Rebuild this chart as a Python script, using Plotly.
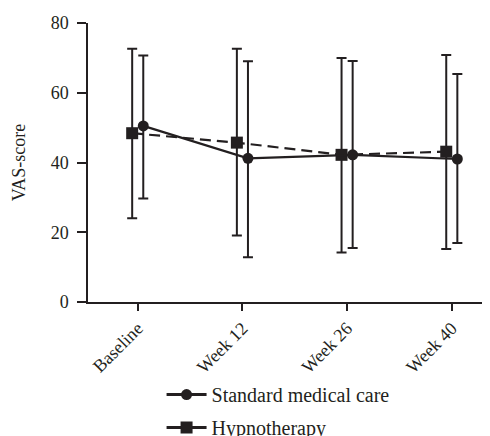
import plotly.graph_objects as go

categories = ["Baseline", "Week 12", "Week 26", "Week 40"]

std_mean = [50.5, 41.2, 42.2, 41.0]
std_upper = [70.7, 69.0, 69.1, 65.4]
std_lower = [29.7, 12.8, 15.5, 16.9]

hyp_mean = [48.4, 45.7, 42.2, 43.1]
hyp_upper = [72.6, 72.6, 70.0, 70.8]
hyp_lower = [24.0, 19.1, 14.2, 15.2]

y_ticks = [0, 20, 40, 60, 80]

INK = "#231f20"
FONT = "Liberation Serif"
offset = 0.053
xpos = list(range(len(categories)))

def err(mean, up, lo):
    return dict(type="data", symmetric=False,
                array=[u - m for u, m in zip(up, mean)],
                arrayminus=[m - l for m, l in zip(mean, lo)],
                color=INK, thickness=2, width=5)

fig = go.Figure()
fig.add_trace(go.Scatter(
    x=[p - offset for p in xpos], y=hyp_mean, name="Hypnotherapy",
    mode="lines+markers", legendgroup="h", showlegend=False,
    line=dict(color=INK, width=2.2, dash="11px,6px"),
    marker=dict(symbol="square", size=12, color=INK),
    error_y=err(hyp_mean, hyp_upper, hyp_lower)))
fig.add_trace(go.Scatter(
    x=[p + offset for p in xpos], y=std_mean, name="Standard medical care",
    mode="lines+markers", legendgroup="s", showlegend=False,
    line=dict(color=INK, width=2.2),
    marker=dict(symbol="circle", size=11, color=INK),
    error_y=err(std_mean, std_upper, std_lower)))

# legend entries (the printed legend shows both keys with solid strokes)
fig.add_trace(go.Scatter(
    x=[None], y=[None], name="Standard medical care", mode="lines+markers",
    legendgroup="s", legendrank=1,
    line=dict(color=INK, width=3), marker=dict(symbol="circle", size=11, color=INK)))
fig.add_trace(go.Scatter(
    x=[None], y=[None], name="Hypnotherapy", mode="lines+markers",
    legendgroup="h", legendrank=2,
    line=dict(color=INK, width=3), marker=dict(symbol="square", size=12, color=INK)))

# page body adds an 8px offset, so margins are compensated by 8px
fig.update_layout(
    width=490, height=436,
    margin=dict(l=80, r=8, t=15, b=142, autoexpand=False),
    paper_bgcolor="white", plot_bgcolor="white",
    font=dict(family=FONT, size=18, color=INK),
    showlegend=True,
    legend=dict(x=0.183, xanchor="left", y=-0.262, yanchor="top",
                traceorder="grouped", tracegroupgap=4,
                font=dict(size=20), itemwidth=40,
                bgcolor="rgba(0,0,0,0)"),
    xaxis=dict(range=[-0.475, 3.365], tickvals=xpos, ticktext=categories,
               tickangle=-45, showline=True, linecolor=INK, linewidth=1.5,
               ticks="outside", ticklen=7, tickwidth=1.5, tickcolor=INK,
               showgrid=False, zeroline=False, tickfont=dict(size=18),
               automargin=False),
    yaxis=dict(range=[0, 80], tickvals=y_ticks, showline=True, linecolor=INK,
               linewidth=1.5, ticks="outside", ticklen=9, tickwidth=1.5,
               tickcolor=INK, showgrid=False, zeroline=False,
               tickfont=dict(size=18), automargin=False,
               ticklabelstandoff=5,
               title=dict(text="VAS-score", font=dict(size=18), standoff=20)),
)

fig.write_html("out.html")
